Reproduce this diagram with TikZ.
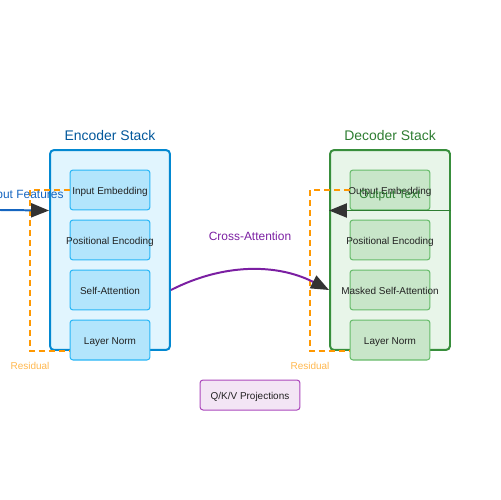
\documentclass[tikz,border=0pt]{standalone}
\usepackage{fontspec}
\setmainfont{Liberation Sans}
\usetikzlibrary{arrows.meta,calc}
\definecolor{encfill}{HTML}{E1F5FE}
\definecolor{encdraw}{HTML}{0288D1}
\definecolor{enctitle}{HTML}{01579B}
\definecolor{einfill}{HTML}{B3E5FC}
\definecolor{eindraw}{HTML}{29B6F6}
\definecolor{decfill}{HTML}{E8F5E9}
\definecolor{decdraw}{HTML}{388E3C}
\definecolor{dectitle}{HTML}{2E7D32}
\definecolor{dinfill}{HTML}{C8E6C9}
\definecolor{dindraw}{HTML}{66BB6A}
\definecolor{inblue}{HTML}{1565C0}
\definecolor{outgreen}{HTML}{2E7D32}
\definecolor{xpurple}{HTML}{7B1FA2}
\definecolor{qkvfill}{HTML}{F3E5F5}
\definecolor{qkvdraw}{HTML}{AB47BC}
\definecolor{resorange}{HTML}{FF9800}
\definecolor{reslabel}{HTML}{FFB74D}
\definecolor{headgray}{HTML}{333333}
\definecolor{txt}{HTML}{222222}
\newcommand\fixw[1]{\makebox[0pt][c]{\raisebox{-2.8pt}[0pt][0pt]{#1}}}
\tikzset{
  stackbox/.style={draw, line width=1.13pt, rounded corners=0.08cm, minimum width=2.4cm, minimum height=4cm, inner sep=0pt},
  encstack/.style={stackbox, draw=encdraw, fill=encfill},
  decstack/.style={stackbox, draw=decdraw, fill=decfill},
  layerbox/.style={draw, line width=0.57pt, rounded corners=0.06cm, minimum width=1.6cm, minimum height=0.8cm, inner sep=0pt, text=txt, font=\fontsize{5.67pt}{6.5pt}\selectfont},
  enclayer/.style={layerbox, draw=eindraw, fill=einfill},
  declayer/.style={layerbox, draw=dindraw, fill=dinfill},
  titletext/.style={font=\fontsize{7.94pt}{9pt}\selectfont, inner sep=0pt},
  labeltext/.style={font=\fontsize{6.8pt}{8pt}\selectfont, inner sep=0pt},
  restext/.style={font=\fontsize{5.67pt}{6.5pt}\selectfont, inner sep=0pt, text=reslabel},
  resline/.style={draw=resorange, line width=1.13pt, dash pattern=on 3.4pt off 2.27pt},
  bighead/.style={-{Triangle[length=10.2pt,width=8pt,fill=headgray,color=headgray]}},
}
\begin{document}
\begin{tikzpicture}[x=0.02cm,y=-0.02cm]
\useasboundingbox (0,0) rectangle (500,500);
% stacks
\node[encstack] (enc) at (110,250) {};
\node[decstack] (dec) at (390,250) {};
\node[titletext, text=enctitle] (enct) at (110,135.5) {Encoder Stack};
\node[titletext, text=dectitle] (dect) at (390,135.5) {Decoder Stack};
% residual corner points
\coordinate (eresc) at (30,190);
\coordinate (dresc) at (310,190);
% encoder layers
\node[enclayer] (eie) at (110,190) {\fixw{Input Embedding}};
\node[enclayer] (epe) at (110,240) {\fixw{Positional Encoding}};
\node[enclayer] (esa) at (110,290) {\fixw{Self-Attention}};
\node[enclayer] (eln) at (110,340) {\fixw{Layer Norm}};
% decoder layers
\node[declayer] (doe) at (390,190) {\fixw{Output Embedding}};
\node[declayer] (dpe) at (390,240) {\fixw{Positional Encoding}};
\node[declayer] (dms) at (390,290) {\fixw{Masked Self-Attention}};
\node[declayer] (dln) at (390,340) {\fixw{Layer Norm}};
% residual dashed lines
\draw[resline] (eie.west) -- (eresc) |- (enc.south -| eln.west);
\draw[resline] (doe.west) -- (dresc) |- (dec.south -| dln.west);
\node[restext] (eres) at (30,366) {Residual};
\node[restext] (dres) at (310,366) {Residual};
% input arrow
\coordinate (inL) at (0,210);
\draw[bighead, draw=inblue, line width=1.13pt] (inL) -- (enc.west |- eie.south);
\node[labeltext, text=inblue] (inlab) at (25,195.5) {Input Features};
% output arrow
\draw[bighead, draw=outgreen, line width=1.13pt] (dec.east |- doe.south) -- (dec.west |- doe.south);
\node[labeltext, text=outgreen] (outlab) at (390,195.5) {Output Text};
% cross attention
\draw[bighead, draw=xpurple, line width=1.13pt] (enc.east |- esa) .. controls (223.3,263.3) and (276.7,263.3) .. (dec.west |- dms);
\node[labeltext, text=xpurple] (xlab) at (250,236) {Cross-Attention};
% QKV
\node[draw=qkvdraw, fill=qkvfill, line width=0.57pt, rounded corners=0.06cm, minimum width=2cm, minimum height=0.6cm, inner sep=0pt, text=txt, font=\fontsize{5.67pt}{6.5pt}\selectfont] (qkv) at (250,395) {\fixw{Q/K/V Projections}};
\end{tikzpicture}
\end{document}
